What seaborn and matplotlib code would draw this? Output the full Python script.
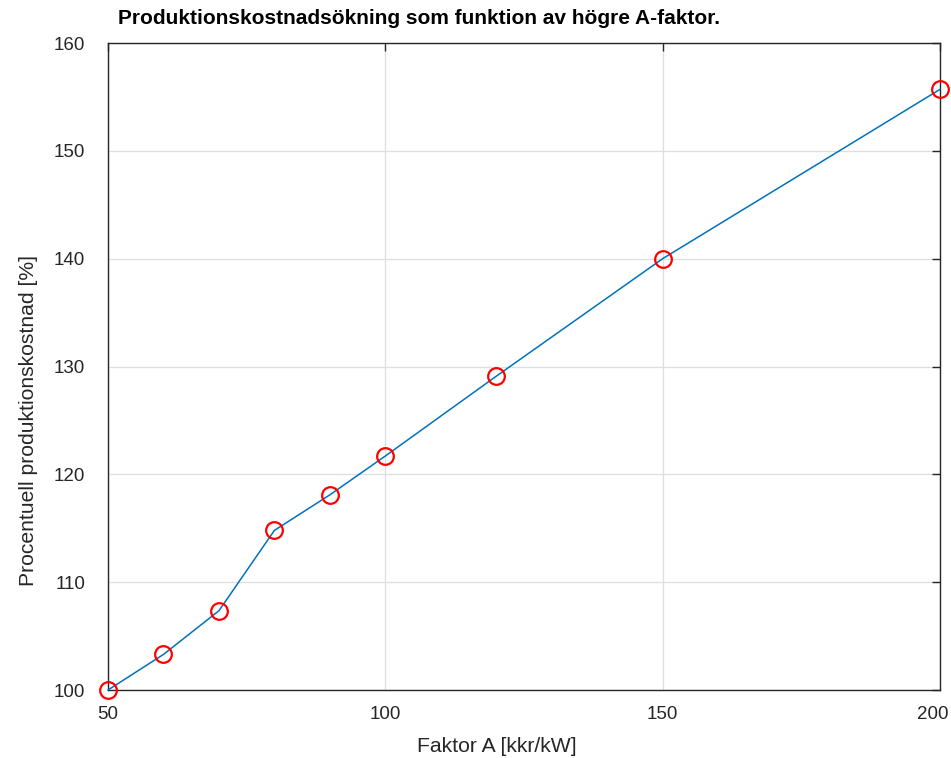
import matplotlib
matplotlib.use("Agg")
import matplotlib.pyplot as plt
import matplotlib.transforms as mtransforms
import seaborn as sns
import pandas as pd

# Production cost increase versus factor A
faktor_a = [50, 60, 70, 80, 90, 100, 120, 150, 200]
kostnad = [100.0, 103.3, 107.35, 114.8, 118.1, 121.7, 129.1, 140.0, 155.7]
x_ticks = [50, 100, 150, 200]
y_ticks = [100, 110, 120, 130, 140, 150, 160]

sns.set_theme(style="white")
plt.rcParams["font.family"] = ["Liberation Sans", "DejaVu Sans"]

df = pd.DataFrame({"A": faktor_a, "kostnad": kostnad})

fig = plt.figure(figsize=(9.51, 7.58), dpi=100)
ax = fig.add_axes([108 / 951, 68 / 758, 832 / 951, 647 / 758])

sns.lineplot(data=df, x="A", y="kostnad", ax=ax, color="#0072BD", linewidth=1.1,
             marker="o", markersize=12, markerfacecolor="none",
             markeredgecolor="#FF0000", markeredgewidth=1.6, clip_on=False, zorder=3)

ax.set_xlim(50, 200)
ax.set_ylim(100, 160)
ax.set_xticks(x_ticks)
ax.set_yticks(y_ticks)

ink = "#262626"
ax.grid(True, color="#dedede", linewidth=0.9)
ax.set_axisbelow(True)
for side in ["left", "right", "top", "bottom"]:
    ax.spines[side].set_visible(True)
    ax.spines[side].set_color(ink)
    ax.spines[side].set_linewidth(1.0)

ax.tick_params(axis="both", which="both", direction="in", length=5.5, width=1.0,
               color=ink, labelcolor=ink, labelsize=13.5, top=True, right=True)
ax.tick_params(axis="y", pad=16.5)
ax.tick_params(axis="x", pad=11.5)

# keep the last x tick label inside the figure edge
last = ax.xaxis.get_major_ticks()[-1].label1
last.set_transform(last.get_transform()
                   + mtransforms.ScaledTranslation(-0.07, 0, fig.dpi_scale_trans))

ax.set_xlabel("Faktor A [kkr/kW]", fontsize=15.2, color=ink)
ax.set_ylabel("Procentuell produktionskostnad [%]", fontsize=15.2, color=ink)
ax.xaxis.set_label_coords(0.4675, -0.088)
ax.xaxis.label.set_va("center")
ax.yaxis.set_label_coords(-0.096, 0.416)
ax.yaxis.label.set_va("center")

fig.text(118 / 951, 1 - 19 / 758, "Produktionskostnadsökning som funktion av högre A-faktor.",
         fontsize=15, fontweight="bold", color="black", ha="left", va="center")

fig.savefig("out.png", dpi=100)
